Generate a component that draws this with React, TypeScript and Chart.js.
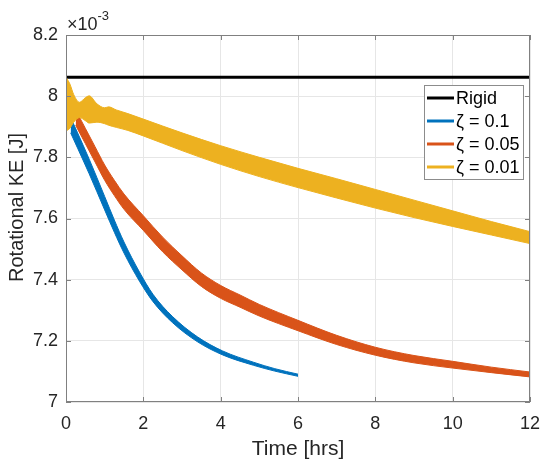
import React, { useEffect, useRef } from "react";
import { Chart, registerables } from "chart.js";
Chart.register(...registerables);

// ---- axis ticks ----
const xTicks = [0, 2, 4, 6, 8, 10, 12];
const xTickLabels = ["0", "2", "4", "6", "8", "10", "12"];
const yTicks = [7, 7.2, 7.4, 7.6, 7.8, 8, 8.2];
const yTickLabels = ["7", "7.2", "7.4", "7.6", "7.8", "8", "8.2"];
const yTitle = "Rotational KE [J]";
const xTitle = "Time [hrs]";

// ---- legend ----
const seriesLabels = ["Rigid", "ζ = 0.1", "ζ = 0.05", "ζ = 0.01"];
const seriesColors = ["#000000", "#0072BD", "#D95319", "#EDB120"];

// ---- Rigid ----
const rigidT = [0, 12];
const rigidKE = [8.062, 8.062];

// ---- zeta = 0.1 (band: lower / upper envelope) ----
const blueT = [0.12, 0.3, 0.6, 1.0, 1.25, 1.5, 1.9, 2.25, 2.75, 3.4, 4.05, 4.85, 5.4, 6.0];
const blueUpper = [7.93, 7.88, 7.794, 7.672, 7.595, 7.523, 7.425, 7.352, 7.28, 7.213, 7.167, 7.13, 7.109, 7.091];
const blueLower = [7.88, 7.83, 7.746, 7.628, 7.555, 7.487, 7.395, 7.328, 7.26, 7.197, 7.154, 7.12, 7.101, 7.084];

// ---- zeta = 0.05 ----
const redT = [0.25, 0.5, 0.75, 1, 1.25, 1.5, 2, 2.5, 3, 3.5, 4, 4.5, 5, 6, 7, 8, 9, 10, 11, 12];
const redUpper = [7.955, 7.895, 7.835, 7.775, 7.725, 7.68, 7.609, 7.539, 7.478, 7.422, 7.381, 7.35, 7.319, 7.267, 7.218, 7.179, 7.152, 7.133, 7.114, 7.098];
const redLower = [7.905, 7.845, 7.785, 7.725, 7.675, 7.63, 7.561, 7.491, 7.432, 7.378, 7.339, 7.31, 7.281, 7.233, 7.188, 7.153, 7.128, 7.111, 7.096, 7.082];

// ---- zeta = 0.01 ----
const yelT = [0, 0.1, 0.2, 0.35, 0.5, 0.6, 0.8, 1.0, 1.1, 1.3, 1.6, 2, 3, 4, 5, 6, 7, 8, 9, 10, 11, 12];
const yelUpper = [8.062, 8.04, 8.005, 7.98, 7.995, 8.001, 7.975, 7.962, 7.965, 7.955, 7.943, 7.925, 7.88, 7.838, 7.8, 7.764, 7.73, 7.695, 7.66, 7.625, 7.59, 7.557];
const yelLower = [7.886, 7.895, 7.915, 7.93, 7.92, 7.912, 7.915, 7.91, 7.905, 7.898, 7.888, 7.87, 7.822, 7.777, 7.737, 7.701, 7.667, 7.634, 7.603, 7.574, 7.546, 7.518];

const FONT = '"Liberation Sans", Arial, Helvetica, sans-serif';
const TEXT = "#262626";

const pts = (t: number[], v: number[]) => t.map((x, i) => ({ x, y: v[i] }));

const matlabPlugin = {
  id: "matlabAxes",
  afterDraw(chart: any) {
    const { ctx, chartArea: a, scales } = chart;
    ctx.save();
    // box
    ctx.strokeStyle = "#808080";
    ctx.lineWidth = 1;
    ctx.strokeRect(a.left + 0.5, a.top + 0.5, a.right - a.left - 1, a.bottom - a.top - 1);
    // inward ticks
    const tl = 5;
    ctx.beginPath();
    xTicks.forEach((v) => {
      const px = Math.round(scales.x.getPixelForValue(v)) + 0.5;
      ctx.moveTo(px, a.bottom);
      ctx.lineTo(px, a.bottom - tl);
      ctx.moveTo(px, a.top);
      ctx.lineTo(px, a.top + tl);
    });
    yTicks.forEach((v) => {
      const py = Math.round(scales.y.getPixelForValue(v)) + 0.5;
      ctx.moveTo(a.left, py);
      ctx.lineTo(a.left + tl, py);
      ctx.moveTo(a.right, py);
      ctx.lineTo(a.right - tl, py);
    });
    ctx.stroke();
    // y title
    ctx.save();
    ctx.translate(17, (a.top + a.bottom) / 2 - 11);
    ctx.rotate(-Math.PI / 2);
    ctx.fillStyle = TEXT;
    ctx.font = `20px ${FONT}`;
    ctx.textAlign = "center";
    ctx.textBaseline = "middle";
    ctx.fillText(yTitle, 0, 0);
    ctx.restore();
    // exponent label
    ctx.fillStyle = TEXT;
    ctx.textBaseline = "alphabetic";
    ctx.textAlign = "left";
    ctx.font = `18px ${FONT}`;
    ctx.fillText("×10", a.left + 1, 30);
    const w = ctx.measureText("×10").width;
    ctx.font = `13px ${FONT}`;
    ctx.fillText("-3", a.left + 1 + w, 20);
    // legend
    const bx = a.right - 106;
    const by = a.top + 50;
    const bw = 99;
    const bh = 94;
    ctx.fillStyle = "#ffffff";
    ctx.fillRect(bx, by, bw, bh);
    ctx.strokeStyle = "#8c8c8c";
    ctx.lineWidth = 1;
    ctx.strokeRect(bx + 0.5, by + 0.5, bw, bh);
    ctx.font = `18px ${FONT}`;
    ctx.textBaseline = "middle";
    seriesLabels.forEach((lab, i) => {
      const cy = by + 13 + i * 23;
      ctx.strokeStyle = seriesColors[i];
      ctx.lineWidth = 3;
      ctx.beginPath();
      ctx.moveTo(bx + 3, cy);
      ctx.lineTo(bx + 30, cy);
      ctx.stroke();
      ctx.fillStyle = "#000";
      ctx.fillText(lab, bx + 32, cy + 1);
    });
    ctx.restore();
  },
};

export default function App() {
  const ref = useRef<HTMLCanvasElement | null>(null);
  useEffect(() => {
    if (!ref.current) return;
    const band = (t: number[], lo: number[], up: number[], color: string, order: number) => [
      {
        label: "lower",
        data: pts(t, lo),
        borderColor: color,
        backgroundColor: color,
        borderWidth: 1,
        pointRadius: 0,
        fill: false,
        order,
        cubicInterpolationMode: "monotone",
      },
      {
        label: "upper",
        data: pts(t, up),
        borderColor: color,
        backgroundColor: color,
        borderWidth: 1,
        pointRadius: 0,
        fill: "-1",
        order,
        cubicInterpolationMode: "monotone",
      },
    ];
    const chart = new Chart(ref.current, {
      type: "line",
      data: {
        datasets: [
          {
            label: seriesLabels[0],
            data: pts(rigidT, rigidKE),
            borderColor: seriesColors[0],
            borderWidth: 3,
            pointRadius: 0,
            fill: false,
            order: 4,
          },
          ...band(blueT, blueLower, blueUpper, seriesColors[1], 3),
          ...band(redT, redLower, redUpper, seriesColors[2], 2),
          ...band(yelT, yelLower, yelUpper, seriesColors[3], 1),
        ] as any,
      },
      options: {
        animation: false,
        responsive: false,
        devicePixelRatio: 1,
        layout: { padding: { top: 35, right: 13, left: 0, bottom: 0 } },
        plugins: { legend: { display: false }, tooltip: { enabled: false } },
        scales: {
          x: {
            type: "linear",
            min: 0,
            max: 12,
            afterBuildTicks: (s: any) => {
              s.ticks = xTicks.map((v) => ({ value: v }));
            },
            afterFit: (s: any) => {
              s.height = 64;
              s.paddingLeft = 0;
              s.paddingRight = 0;
            },
            ticks: {
              autoSkip: false,
              maxRotation: 0,
              padding: 11,
              color: TEXT,
              font: { family: FONT, size: 18 },
              callback: (v: any) => xTickLabels[xTicks.indexOf(Number(v))] ?? "",
            },
            grid: { color: "#e6e6e6", drawTicks: false },
            border: { display: false },
            title: {
              display: true,
              text: xTitle,
              color: TEXT,
              font: { family: FONT, size: 21 },
              padding: { top: 0, bottom: 4 },
            },
          },
          y: {
            type: "linear",
            min: 7,
            max: 8.2,
            afterBuildTicks: (s: any) => {
              s.ticks = yTicks.map((v) => ({ value: v }));
            },
            afterFit: (s: any) => {
              s.width = 66;
              s.paddingTop = 0;
              s.paddingBottom = 0;
            },
            ticks: {
              autoSkip: false,
              padding: 8,
              color: TEXT,
              font: { family: FONT, size: 18 },
              callback: (v: any) => {
                const i = yTicks.findIndex((t) => Math.abs(t - Number(v)) < 1e-6);
                return i >= 0 ? yTickLabels[i] : "";
              },
            },
            grid: { color: "#e6e6e6", drawTicks: false },
            border: { display: false },
            title: { display: false },
          },
        },
      },
      plugins: [matlabPlugin],
    });
    return () => chart.destroy();
  }, []);
  return (
    <div style={{ position: "absolute", left: 0, top: 0, width: 543, height: 466 }}>
      <canvas ref={ref} width={543} height={466} style={{ display: "block" }} />
    </div>
  );
}
